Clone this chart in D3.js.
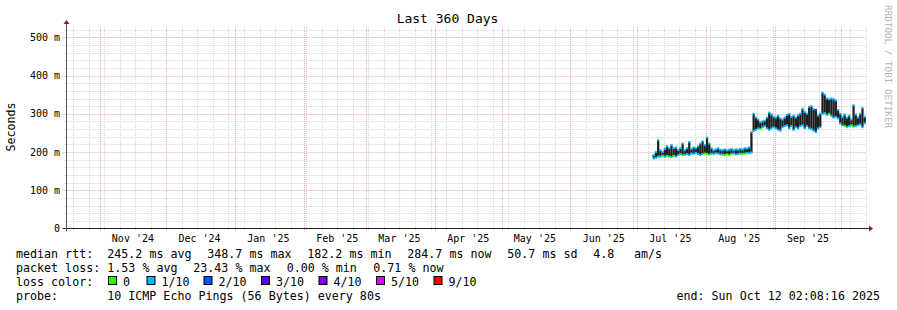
<!DOCTYPE html>
<html><head><meta charset="utf-8">
<script src="https://cdn.jsdelivr.net/npm/d3@7/dist/d3.min.js"></script>
<style>
body{margin:0;background:#fff}
text{font-family:"DejaVu Sans Mono",monospace;white-space:pre;fill:#000}
</style>
</head><body><svg id="c" width="897" height="310"></svg>
<script>
// ---------- data ----------
const title = "Last 360 Days";
const yAxisTitle = "Seconds";
const watermark = "RRDTOOL / TOBI OETIKER";
const endTime = "2025-10-12T02:08:16Z";
const spanDays = 360;
const yMax = 527;
const yTicks = [0, 100, 200, 300, 400, 500];
const yTickLabels = ["0", "100 m", "200 m", "300 m", "400 m", "500 m"];
const monthLabels = ["Nov '24","Dec '24","Jan '25","Feb '25","Mar '25","Apr '25","May '25","Jun '25","Jul '25","Aug '25","Sep '25"];
const monthLabelDates = ["2024-11-16","2024-12-16","2025-01-16","2025-02-16","2025-03-16","2025-04-16","2025-05-16","2025-06-16","2025-07-16","2025-08-16","2025-09-16"];
const firstDay = "2025-07-08";
// daily smoke range (ms), Jul 8 .. Oct 12 2025
const lo = [183,185,188,188,190,188,190,188,187,190,188,192,195,192,193,195,192,196,195,198,
            195,192,195,196,195,193,196,195,197,196,194,193,192,194,192,195,196,194,195,196,
            195,196,198,197,199,255,258,262,260,265,268,262,258,262,265,262,258,256,265,268,
            270,262,268,258,265,262,268,270,262,268,262,260,256,252,262,265,300,302,297,300,
            295,290,292,288,275,270,268,265,268,270,266,268,270,272,265,275];
const hi = [192,200,231,205,200,208,215,210,218,210,212,205,210,222,205,210,226,208,212,210,
            215,222,228,218,238,222,210,205,207,210,206,205,207,204,206,208,205,207,206,208,
            207,210,209,212,252,300,290,285,278,280,282,290,303,298,292,290,295,288,285,290,
            297,300,292,295,290,296,300,313,305,300,318,320,312,310,295,300,355,350,340,338,
            340,338,335,310,300,292,298,290,295,285,322,298,290,300,315,292];
// loss colour index (into lossColors) of the median trace at the low / high end of each day
const lossLo = [1,1,1,1,0,1,0,0,1,0,1,1,1,0,1,1,1,1,1,1,
                1,1,1,0,0,0,1,1,1,1,1,0,0,0,0,0,1,1,1,1,
                0,0,1,1,1,1,1,1,0,1,1,1,1,1,1,1,1,1,1,1,
                1,1,1,1,1,1,1,1,1,1,1,1,1,1,1,1,1,1,1,0,
                1,1,1,1,1,1,0,0,1,0,0,1,1,1,1,1];
const lossHi = [1,1,1,1,1,1,1,1,1,1,1,1,1,1,1,1,1,1,1,1,
                1,1,1,1,1,1,1,1,1,1,1,1,1,1,1,1,1,1,1,1,
                1,1,1,1,1,1,1,1,1,1,1,1,1,1,1,1,1,1,1,1,
                1,1,1,1,1,1,1,1,1,1,1,1,1,3,1,1,1,1,1,1,
                1,1,1,1,1,1,1,1,1,1,1,1,1,1,1,1];
const lossColors = ["#26ff00","#00b8ff","#0059ff","#5e00ff","#7e00ff","#dd00ff","#ff0000"];
const lossLabels = ["0","1/10","2/10","3/10","4/10","5/10","9/10"];
const rttItems = ["median rtt:", "245.2 ms avg", "348.7 ms max", "182.2 ms min", "284.7 ms now", "50.7 ms sd", "4.8", "am/s"];
const lossItems = ["packet loss:", "1.53 % avg", "23.43 % max", "0.00 % min", "0.71 % now"];
const lossColorTitle = "loss color:";
const probeLine = "probe:       10 ICMP Echo Pings (56 Bytes) every 80s";
const endLabel = "end: Sun Oct 12 02:08:16 2025";

// ---------- layout ----------
const W = 897, H = 310;
const L = 66.5, R = 866, T = 27, B = 228.5;
const svg = d3.select("#c");
svg.append("rect").attr("width", W).attr("height", H).attr("fill", "#fff");

const end = new Date(endTime);
const start = d3.utcDay.offset(end, -spanDays);
const x = d3.scaleUtc().domain([start, end]).range([L, R]);
const y = d3.scaleLinear().domain([0, yMax]).range([B, T]);

const minorCol = "#d4d4d4", majorCol = "#f3a9a9";
const g = svg.append("g");
const minorY = d3.range(20, yMax, 20).filter(v => v % 100 !== 0);
g.selectAll(".mh").data(minorY).join("line")
  .attr("x1", L - 2).attr("x2", R).attr("y1", d => Math.round(y(d)) + 0.5).attr("y2", d => Math.round(y(d)) + 0.5)
  .attr("stroke", minorCol).attr("stroke-dasharray", "1,1");
const weeks = d3.utcSunday.range(start, end);
g.selectAll(".mv").data(weeks).join("line")
  .attr("x1", d => Math.round(x(d)) + 0.5).attr("x2", d => Math.round(x(d)) + 0.5)
  .attr("y1", T).attr("y2", B + 2)
  .attr("stroke", minorCol).attr("stroke-dasharray", "1,1");
g.selectAll(".Mh").data(yTicks.filter(v => v > 0)).join("line")
  .attr("x1", L - 4).attr("x2", R).attr("y1", d => Math.round(y(d)) + 0.5).attr("y2", d => Math.round(y(d)) + 0.5)
  .attr("stroke", majorCol).attr("stroke-dasharray", "1,1");
const months = d3.utcMonth.range(start, end);
g.selectAll(".Mv").data(months).join("line")
  .attr("x1", d => Math.round(x(d)) + 0.5).attr("x2", d => Math.round(x(d)) + 0.5)
  .attr("y1", T).attr("y2", B + 3)
  .attr("stroke", majorCol).attr("stroke-dasharray", "1,1");

// ---------- data marks ----------
const day0 = new Date(firstDay + "T00:00:00Z");
const days = lo.map((v, i) => {
  const d0 = d3.utcDay.offset(day0, i), d1 = d3.utcDay.offset(day0, i + 1);
  return {x0: x(d0), x1: Math.min(x(d1), R), lo: v, hi: hi[i], cl: lossColors[lossLo[i]], ch: lossColors[lossHi[i]]};
});
const dg = svg.append("g");
dg.selectAll(".smoke").data(days).join("rect")
  .attr("x", d => d.x0).attr("width", d => d.x1 - d.x0)
  .attr("y", d => y(d.hi)).attr("height", d => y(d.lo) - y(d.hi))
  .attr("fill", "#1e1e1e");
dg.selectAll(".capHi").data(days).join("rect")
  .attr("x", d => d.x0).attr("width", d => d.x1 - d.x0)
  .attr("y", d => y(d.hi) - 1).attr("height", 2)
  .attr("fill", d => d.ch);
dg.selectAll(".capLo").data(days).join("rect")
  .attr("x", d => d.x0).attr("width", d => d.x1 - d.x0)
  .attr("y", d => y(d.lo) - 1).attr("height", 2)
  .attr("fill", d => d.cl);

// ---------- axes ----------
const axisCol = "#222", arrowCol = "#8f2020";
svg.append("line").attr("x1", L - 4).attr("x2", R + 3).attr("y1", B).attr("y2", B)
  .attr("stroke", axisCol).attr("stroke-width", 1);
svg.append("line").attr("x1", L).attr("x2", L).attr("y1", B + 3).attr("y2", T - 3)
  .attr("stroke", "#555").attr("stroke-width", 1);
svg.append("path").attr("d", `M${R + 3},${B - 3}L${R + 7},${B}L${R + 3},${B + 3}Z`).attr("fill", arrowCol);
svg.append("path").attr("d", `M${L - 3},${T - 3}L${L},${T - 7}L${L + 3},${T - 3}Z`).attr("fill", arrowCol);

svg.selectAll(".yl").data(yTicks).join("text")
  .attr("x", 60).attr("y", d => y(d) + 3.5).attr("text-anchor", "end")
  .attr("font-size", "10px").text((d, i) => yTickLabels[i]);
svg.selectAll(".xl").data(monthLabelDates).join("text")
  .attr("x", d => x(new Date(d + "T00:00:00Z"))).attr("y", 241.5).attr("text-anchor", "middle")
  .attr("font-size", "10px").text((d, i) => monthLabels[i]);

svg.append("text").attr("x", 447.5).attr("y", 23.3).attr("text-anchor", "middle")
  .attr("font-size", "13px").text(title);
svg.append("text").attr("transform", "translate(15,127) rotate(-90)").attr("text-anchor", "middle")
  .attr("font-size", "11.6px").text(yAxisTitle);
svg.append("text").attr("transform", "translate(884.5,5) rotate(90)").attr("text-anchor", "start")
  .attr("font-size", "9.3px").style("fill", "#b4b4b4").text(watermark);

// ---------- legend ----------
const fs = "11.66px";
const lineY = [258, 272, 286, 300];
const rttX = [16, 107.3, 207.3, 307.3, 407.3, 507.3, 593.3, 634];
const lossX = [16, 107.3, 193.3, 286.7, 373.3];
svg.selectAll(".rt").data(rttItems).join("text")
  .attr("x", (d, i) => rttX[i]).attr("y", lineY[0]).attr("font-size", fs).text(d => d);
svg.selectAll(".pl").data(lossItems).join("text")
  .attr("x", (d, i) => lossX[i]).attr("y", lineY[1]).attr("font-size", fs).text(d => d);
svg.append("text").attr("x", 16).attr("y", lineY[2]).attr("font-size", fs).text(lossColorTitle);
const boxX = [108, 146.5, 203.5, 261, 318.5, 376, 433.5];
const lg = svg.selectAll(".lg").data(lossLabels).join("g")
  .attr("transform", (d, i) => `translate(${boxX[i]},${lineY[2]})`);
lg.append("rect").attr("x", 0.5).attr("y", -9.5).attr("width", 8).attr("height", 8)
  .attr("fill", (d, i) => lossColors[i]).attr("stroke", "#000").attr("stroke-width", 1);
lg.append("text").attr("x", 15).attr("y", 0).attr("font-size", fs).text(d => d);
svg.append("text").attr("x", 16).attr("y", lineY[3]).attr("font-size", fs)
  .attr("xml:space", "preserve").text(probeLine);
svg.append("text").attr("x", 880).attr("y", lineY[3]).attr("text-anchor", "end")
  .attr("font-size", fs).text(endLabel);
</script>
</body></html>
